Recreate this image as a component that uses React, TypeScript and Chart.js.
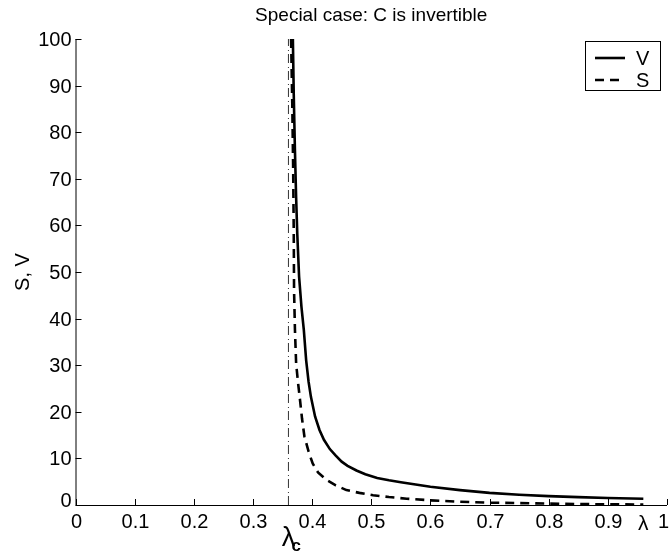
import React, { useEffect, useRef } from "react";
import { Chart, registerables } from "chart.js";

Chart.register(...registerables);

// ---- data ----
const vLambda = [0.3675, 0.369, 0.371, 0.373, 0.375, 0.378, 0.382, 0.386, 0.39, 0.394, 0.398, 0.405, 0.4125, 0.42, 0.43, 0.44, 0.45, 0.46, 0.475, 0.49, 0.51, 0.53, 0.55, 0.575, 0.6, 0.65, 0.7, 0.75, 0.8, 0.85, 0.9, 0.96];
const vValues = [100, 88, 76, 66, 58, 49, 42.5, 37.6, 31, 26.5, 23.2, 19, 16.1, 14, 12, 10.6, 9.3, 8.4, 7.4, 6.6, 5.8, 5.3, 4.9, 4.4, 3.9, 3.2, 2.6, 2.2, 1.9, 1.7, 1.5, 1.35];
const sLambda = [0.3645, 0.3665, 0.368, 0.369, 0.3695, 0.371, 0.373, 0.376, 0.379, 0.383, 0.387, 0.394, 0.401, 0.41, 0.424, 0.44, 0.458, 0.48, 0.503, 0.53, 0.56, 0.6, 0.65, 0.7, 0.75, 0.8, 0.85, 0.9, 0.96];
const sValues = [100, 86, 72, 58, 46, 37.6, 30.4, 26.5, 23.2, 18.5, 14.7, 11.5, 8.9, 7, 5.4, 4.2, 3.2, 2.6, 2.1, 1.7, 1.35, 1.0, 0.7, 0.5, 0.4, 0.3, 0.2, 0.15, 0.1];
const lambdaC = 0.36;
const xTicks = [0, 0.1, 0.2, 0.3, 0.4, 0.5, 0.6, 0.7, 0.8, 0.9, 1];
const xTickLabels = ["0", "0.1", "0.2", "0.3", "0.4", "0.5", "0.6", "0.7", "0.8", "0.9", "1"];
const yTicks = [0, 10, 20, 30, 40, 50, 60, 70, 80, 90, 100];
const yTickLabels = ["0", "10", "20", "30", "40", "50", "60", "70", "80", "90", "100"];
const lambdaLabelPos = 0.96;
const titleText = "Special case: C is invertible";
const yAxisTitle = "S, V";
const legendLabels = ["V", "S"];

const FONT = '"Liberation Sans", Arial, Helvetica, sans-serif';

const axesPlugin = {
  id: "matlabAxes",
  afterDraw(chart: any) {
    const ctx = chart.ctx as CanvasRenderingContext2D;
    const xs = chart.scales.x;
    const ys = chart.scales.y;
    const { left, right, top, bottom } = chart.chartArea;
    const W = chart.width;
    ctx.save();
    ctx.strokeStyle = "#000";
    ctx.lineWidth = 1;
    ctx.setLineDash([]);
    // axes lines
    ctx.beginPath();
    ctx.moveTo(left + 0.5, top);
    ctx.lineTo(left + 0.5, bottom + 0.5);
    ctx.lineTo(right, bottom + 0.5);
    ctx.stroke();
    // y ticks
    ctx.fillStyle = "#000";
    ctx.font = `20px ${FONT}`;
    ctx.textAlign = "right";
    ctx.textBaseline = "middle";
    yTicks.forEach((v, i) => {
      const py = Math.round(ys.getPixelForValue(v)) + 0.5;
      ctx.beginPath();
      ctx.moveTo(left, py);
      ctx.lineTo(left + 6, py);
      ctx.stroke();
      ctx.fillText(yTickLabels[i], left - 4, py + 1 - (v === 0 ? 5 : 0));
    });
    // x ticks
    ctx.textAlign = "center";
    ctx.textBaseline = "top";
    xTicks.forEach((v, i) => {
      const px = Math.round(xs.getPixelForValue(v)) + 0.5;
      ctx.beginPath();
      ctx.moveTo(px, bottom);
      ctx.lineTo(px, bottom - 6);
      ctx.stroke();
      const tw = ctx.measureText(xTickLabels[i]).width;
      const lx = Math.min(px, W - tw / 2 - 2);
      ctx.fillText(xTickLabels[i], lx, bottom + 7);
    });
    // lambda label in tick row
    ctx.font = `21px ${FONT}`;
    ctx.fillText("λ", xs.getPixelForValue(lambdaLabelPos), bottom + 9);
    // lambda_c
    const pc = xs.getPixelForValue(lambdaC);
    ctx.font = `27px ${FONT}`;
    ctx.textAlign = "center";
    ctx.textBaseline = "alphabetic";
    ctx.fillText("λ", pc, bottom + 41);
    ctx.font = `bold 17px ${FONT}`;
    ctx.textAlign = "left";
    ctx.fillText("c", pc + 3, bottom + 46);
    // title
    ctx.font = `19px ${FONT}`;
    ctx.textAlign = "center";
    ctx.textBaseline = "alphabetic";
    ctx.fillText(titleText, (left + right) / 2, 21);
    // y axis title
    ctx.save();
    ctx.translate(29, (top + bottom) / 2);
    ctx.rotate(-Math.PI / 2);
    ctx.font = `20px ${FONT}`;
    ctx.textAlign = "center";
    ctx.textBaseline = "alphabetic";
    ctx.fillText(yAxisTitle, 0, 0);
    ctx.restore();
    // legend
    const bx = 585.5, by = 41.5, bw = 75, bh = 49;
    ctx.fillStyle = "#fff";
    ctx.fillRect(bx, by, bw, bh);
    ctx.strokeStyle = "#000";
    ctx.lineWidth = 1;
    ctx.strokeRect(bx, by, bw, bh);
    const ds = chart.data.datasets;
    const rows = [58, 80];
    legendLabels.forEach((lab, i) => {
      const d = ds[i];
      ctx.beginPath();
      ctx.lineWidth = d.borderWidth;
      ctx.setLineDash(d.borderDash || []);
      ctx.moveTo(595, rows[i]);
      ctx.lineTo(625, rows[i]);
      ctx.stroke();
      ctx.setLineDash([]);
      ctx.fillStyle = "#000";
      ctx.font = `20px ${FONT}`;
      ctx.textAlign = "left";
      ctx.textBaseline = "middle";
      ctx.fillText(lab, 636, rows[i] + 1);
    });
    ctx.restore();
  },
};

export default function App() {
  const ref = useRef<HTMLCanvasElement | null>(null);
  useEffect(() => {
    document.body.style.margin = "0";
    if (!ref.current) return;
    const chart = new Chart(ref.current, {
      type: "scatter",
      data: {
        datasets: [
          {
            label: "V",
            data: vLambda.map((x, i) => ({ x, y: vValues[i] })),
            showLine: true,
            borderColor: "#000",
            borderWidth: 2.6,
            pointRadius: 0,
            tension: 0,
          },
          {
            label: "S",
            data: sLambda.map((x, i) => ({ x, y: sValues[i] })),
            showLine: true,
            borderColor: "#000",
            borderWidth: 2.6,
            borderDash: [9, 6],
            pointRadius: 0,
            tension: 0,
          },
          {
            label: "lambda_c",
            data: [
              { x: lambdaC, y: 0 },
              { x: lambdaC, y: 100 },
            ],
            showLine: true,
            borderColor: "#333",
            borderWidth: 1,
            borderDash: [9, 3, 1, 4],
            pointRadius: 0,
          },
        ],
      },
      options: {
        responsive: false,
        animation: false,
        layout: { padding: { left: 75.5, right: 4, top: 39, bottom: 53 } },
        plugins: { legend: { display: false }, title: { display: false }, tooltip: { enabled: false } },
        scales: {
          x: { type: "linear", min: 0, max: 1, display: false },
          y: { type: "linear", min: 0, max: 100, display: false },
        },
      },
      plugins: [axesPlugin],
    });
    return () => chart.destroy();
  }, []);
  return <canvas ref={ref} width={671} height={558} style={{ display: "block" }} />;
}
